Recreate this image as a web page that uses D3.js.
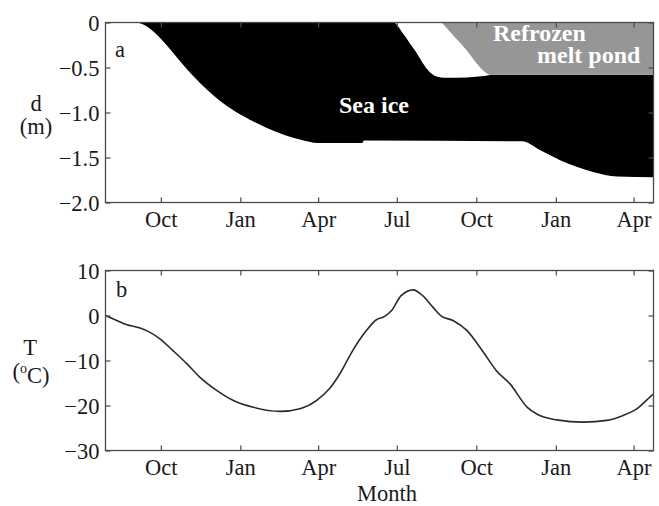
<!DOCTYPE html>
<html>
<head>
<meta charset="utf-8">
<script src="https://cdn.jsdelivr.net/npm/d3@7"></script>
<style>
  html, body { margin: 0; padding: 0; background: #fff; }
  svg { display: block; }
  text { font-family: "Liberation Serif", "Times New Roman", serif; }
</style>
</head>
<body>
<svg id="chart" width="659" height="506"></svg>
<script>
// Month tick positions (first of month) and labels shared by both panels
const monthTicks = ["2001-10-01", "2002-01-01", "2002-04-01", "2002-07-01", "2002-10-01", "2003-01-01", "2003-04-01"];
const timeSpan = ["2001-07-29", "2003-04-24"];

// Panel a: depth ticks (m)
const depthTicks = [0, -0.5, -1.0, -1.5, -2.0];
// Panel b: temperature ticks (deg C)
const tempTicks = [10, 0, -10, -20, -30];

// Sea-ice bottom (m)
const iceBottomDates = ["2001-07-29", "2001-09-01", "2001-09-10", "2001-09-20", "2001-10-01", "2001-10-12", "2001-10-24", "2001-11-05", "2001-11-15", "2001-12-02", "2001-12-23", "2002-01-12", "2002-01-31", "2002-02-21", "2002-03-11", "2002-04-01", "2002-05-22", "2002-05-24", "2002-11-23", "2002-12-14", "2003-01-06", "2003-02-13", "2003-03-13", "2003-04-24"];
const iceBottomDepth = [0, 0, -0.02, -0.08, -0.18, -0.30, -0.44, -0.57, -0.67, -0.82, -0.97, -1.08, -1.17, -1.25, -1.30, -1.34, -1.34, -1.31, -1.32, -1.42, -1.53, -1.66, -1.71, -1.72];

// Sea-ice top surface (m), lowered by summer surface melt
const iceTopDates = ["2001-07-29", "2002-06-27", "2002-07-08", "2002-07-16", "2002-07-24", "2002-07-31", "2002-08-08", "2002-08-16", "2002-08-26", "2002-09-20", "2002-10-10", "2002-10-20", "2003-04-24"];
const iceTopDepth = [0, 0, -0.12, -0.23, -0.34, -0.45, -0.55, -0.60, -0.615, -0.61, -0.595, -0.58, -0.58];

// Freezing front of the melt pond (m)
const pondDates = ["2002-08-22", "2002-09-06", "2002-09-20", "2002-10-01", "2002-10-11", "2002-10-17", "2003-04-24"];
const pondDepth = [0, -0.16, -0.31, -0.45, -0.55, -0.58, -0.58];

// Air temperature (deg C)
const tempDates = ["2001-07-29", "2001-08-11", "2001-08-22", "2001-09-07", "2001-09-18", "2001-09-30", "2001-10-15", "2001-10-31", "2001-11-15", "2001-12-05", "2001-12-24", "2002-01-16", "2002-02-16", "2002-03-11", "2002-03-30", "2002-04-14", "2002-04-26", "2002-05-11", "2002-05-27", "2002-06-07", "2002-06-17", "2002-06-25", "2002-07-06", "2002-07-20", "2002-07-31", "2002-08-12", "2002-08-22", "2002-09-04", "2002-09-20", "2002-10-09", "2002-10-24", "2002-11-09", "2002-11-29", "2002-12-10", "2003-01-02", "2003-02-02", "2003-03-01", "2003-03-20", "2003-04-05", "2003-04-20", "2003-04-24"];
const tempValues = [0.0, -1.1, -2.0, -2.8, -3.7, -5.2, -7.8, -10.7, -13.7, -16.7, -18.9, -20.4, -21.3, -20.7, -18.9, -16.3, -13.0, -7.8, -3.3, -1.0, -0.2, 1.1, 4.4, 5.7, 4.4, 1.8, -0.2, -1.1, -3.3, -8.1, -12.2, -15.2, -20.4, -21.9, -23.2, -23.7, -23.3, -22.2, -20.7, -18.1, -17.4];

const parse = d3.utcParse("%Y-%m-%d");
const zipSeries = (ds, vs) => ds.map((d, i) => ({ date: parse(d), v: vs[i] }));

const iceBottom = zipSeries(iceBottomDates, iceBottomDepth);
const iceTop = zipSeries(iceTopDates, iceTopDepth);
const pond = zipSeries(pondDates, pondDepth);
const temp = zipSeries(tempDates, tempValues);

const svg = d3.select("#chart");
const left = 105.5, right = 653.5;
const panelA = { top: 22.5, bottom: 202.5 };
const panelB = { top: 270.5, bottom: 450.5 };
const frameColor = "#4a4a4a";
const textColor = "#1a1a1a";
const fontSize = "22.5px";

const x = d3.scaleUtc().domain(timeSpan.map(parse)).range([left, right]);
const tickDates = monthTicks.map(parse);
const monthFmt = d3.utcFormat("%b");

const yA = d3.scaleLinear().domain([-2, 0]).range([panelA.bottom, panelA.top]);
const yB = d3.scaleLinear().domain([-30, 10]).range([panelB.bottom, panelB.top]);

// ---------- Panel a: ice and melt pond ----------
svg.append("clipPath").attr("id", "clipA")
  .append("rect").attr("x", left).attr("y", panelA.top)
  .attr("width", right - left).attr("height", panelA.bottom - panelA.top);

const gA = svg.append("g").attr("clip-path", "url(#clipA)");

const areaFromSurface = d3.area()
  .x(d => x(d.date))
  .y0(yA(0))
  .y1(d => yA(d.v))
  .curve(d3.curveMonotoneX);

// ice column from surface down to the ice bottom
gA.append("path").datum(iceBottom).attr("d", areaFromSurface).attr("fill", "#000");
// melted-away part above the ice top
gA.append("path").datum(iceTop).attr("d", areaFromSurface).attr("fill", "#fff");
// refrozen melt pond
gA.append("path").datum(pond).attr("d", areaFromSurface).attr("fill", "#969696");

// ---------- Panel b: temperature ----------
svg.append("clipPath").attr("id", "clipB")
  .append("rect").attr("x", left).attr("y", panelB.top)
  .attr("width", right - left).attr("height", panelB.bottom - panelB.top);

svg.append("g").attr("clip-path", "url(#clipB)")
  .append("path").datum(temp)
  .attr("d", d3.line().x(d => x(d.date)).y(d => yB(d.v)).curve(d3.curveMonotoneX))
  .attr("fill", "none").attr("stroke", "#2a2a2a").attr("stroke-width", 1.6);

// ---------- Frames and axes ----------
function drawAxes(y, panel, yTicks, yFmt) {
  const tick = 5;
  const styleAxis = g => {
    g.select(".domain").remove();
    g.selectAll(".tick line").attr("stroke", frameColor).attr("stroke-width", 1.2);
    g.selectAll("text").style("font-size", fontSize).style("fill", textColor)
      .style("font-family", "'Liberation Serif', 'Times New Roman', serif");
  };
  svg.append("g").attr("transform", `translate(0,${panel.bottom})`)
    .call(d3.axisBottom(x).tickValues(tickDates).tickFormat(monthFmt).tickSize(-tick).tickPadding(9))
    .call(styleAxis);
  svg.append("g").attr("transform", `translate(0,${panel.top})`)
    .call(d3.axisTop(x).tickValues(tickDates).tickFormat("").tickSize(-tick))
    .call(styleAxis);
  svg.append("g").attr("transform", `translate(${left},0)`)
    .call(d3.axisLeft(y).tickValues(yTicks).tickFormat(yFmt).tickSize(-tick).tickPadding(6))
    .call(styleAxis)
    .call(g => g.selectAll("text").attr("dy", "0.36em"));
  svg.append("g").attr("transform", `translate(${right},0)`)
    .call(d3.axisRight(y).tickValues(yTicks).tickFormat("").tickSize(-tick))
    .call(styleAxis);
  svg.append("rect")
    .attr("x", left).attr("y", panel.top)
    .attr("width", right - left).attr("height", panel.bottom - panel.top)
    .attr("fill", "none").attr("stroke", frameColor).attr("stroke-width", 1.3);
}

const fmt1 = d3.format(".1f");
drawAxes(yA, panelA, depthTicks, d => d === 0 ? "0" : fmt1(d));
drawAxes(yB, panelB, tempTicks, d3.format("d"));

// ---------- Labels ----------
const label = (txt, xPos, yPos, opts = {}) => svg.append("text")
  .attr("x", xPos).attr("y", yPos)
  .attr("text-anchor", opts.anchor || "middle")
  .style("font-size", opts.size || fontSize)
  .style("font-weight", opts.weight || "normal")
  .style("fill", opts.fill || textColor)
  .text(txt);

label("d", 36, 111);
label("(m)", 36, 134);

label("T", 30, 355);
const cLab = svg.append("text").attr("x", 31).attr("y", 379)
  .attr("text-anchor", "middle").style("font-size", fontSize).style("fill", textColor);
cLab.append("tspan").text("(");
cLab.append("tspan").text("o").attr("dy", "-0.45em").style("font-size", "14px");
cLab.append("tspan").text("C)").attr("dy", "0.45em");

label("a", 115, 57, { anchor: "start" });
label("b", 116, 297, { anchor: "start" });

label("Month", 387, 501);

label("Sea ice", 374, 113, { size: "24px", weight: "bold", fill: "#fff" });
label("Refrozen", 493, 41, { anchor: "start", size: "24px", weight: "bold", fill: "#fff" });
label("melt pond", 537, 63, { anchor: "start", size: "24px", weight: "bold", fill: "#fff" });
</script>
</body>
</html>
